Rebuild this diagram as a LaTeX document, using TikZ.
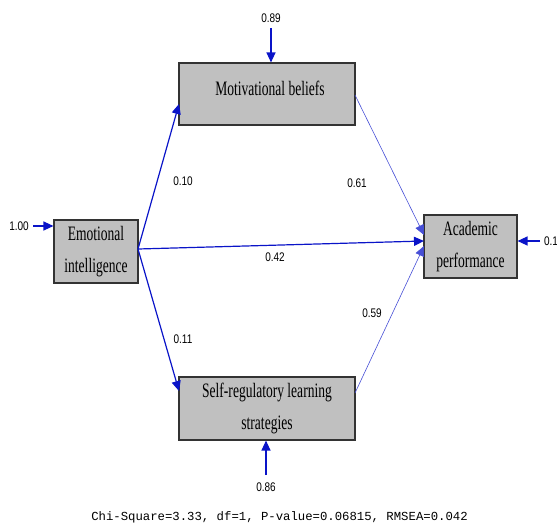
\documentclass[tikz,border=0pt]{standalone}
\usepackage{fontspec}
\setmainfont{Liberation Serif}
\newfontfamily\boxfont[FakeStretch=0.66]{Liberation Serif}
\newfontfamily\numfont[FakeStretch=0.8]{Liberation Sans}
\newfontfamily\monofont{Liberation Mono}
\usetikzlibrary{arrows.meta}
\definecolor{pathblue}{RGB}{10,20,200}
\definecolor{boxgray}{RGB}{192,192,192}
\tikzset{
  var/.style={draw=black!80, line width=1.1pt, fill=boxgray, align=center,
    font=\boxfont\fontsize{20.5}{32}\selectfont, inner sep=0pt},
  num/.style={font=\numfont\fontsize{12.5}{14}\selectfont, inner sep=1pt},
  strong/.style={draw=pathblue, line width=1.2pt, -{Triangle[length=10pt,width=9pt]}},
  weak/.style={draw=pathblue!75, line width=0.6pt, -{Triangle[length=10pt,width=9pt]}},
}
\begin{document}
\begin{tikzpicture}[x=1pt,y=-1pt]
\useasboundingbox (0,0) rectangle (557,531);
\node[var, minimum width=84pt, minimum height=63pt] (ei) at (96,251.5) {Emotional\\intelligence};
\node[var, minimum width=176pt, minimum height=62pt] (mb) at (267,94) {};
\node[font=\boxfont\fontsize{20.5}{32}\selectfont, inner sep=0pt] (mbt) at (270,88) {Motivational beliefs};
\node[var, minimum width=93pt, minimum height=63pt] (ap) at (470.5,246.5) {Academic\\performance};
\node[var, minimum width=176pt, minimum height=63pt] (sr) at (267,408.5) {Self-regulatory learning\\strategies};
% error terms
\node[num] (e1) at (19,226) {1.00};
\node[num] (e2) at (271,18) {0.89};
\node[num] (e3) at (551,241) {0.1};
\node[num] (e4) at (266,487) {0.86};
\coordinate (e1a) at (33,226);
\coordinate (e2a) at (271,28);
\coordinate (e3a) at (540,241);
\coordinate (e4a) at (266,475);
\draw[strong] (e1a) -- (ei.west |- e1a);
\draw[strong] (e2a) -- (mb.north -| e2a);
\draw[strong] (e3a) -- (ap.east |- e3a);
\draw[strong] (e4a) -- (sr.south -| e4a);
% paths
\coordinate (eiR) at (138,249);
\draw[strong] (eiR) -- (179,104);
\draw[strong] (eiR) -- (424,241);
\draw[strong] (eiR) -- (179,391);
\draw[weak] (355,95) -- (424,235);
\draw[weak] (355,393) -- (424,246);
% path labels
\node[num] (p1) at (183,181) {0.10};
\node[num] (p2) at (357,183) {0.61};
\node[num] (p3) at (275,257) {0.42};
\node[num] (p4) at (183,339) {0.11};
\node[num] (p5) at (372,313) {0.59};
\node[font=\monofont\fontsize{12.3}{14}\selectfont, inner sep=0pt] (fit) at (279.5,517) {Chi-Square=3.33, df=1, P-value=0.06815, RMSEA=0.042};
\end{tikzpicture}
\end{document}
